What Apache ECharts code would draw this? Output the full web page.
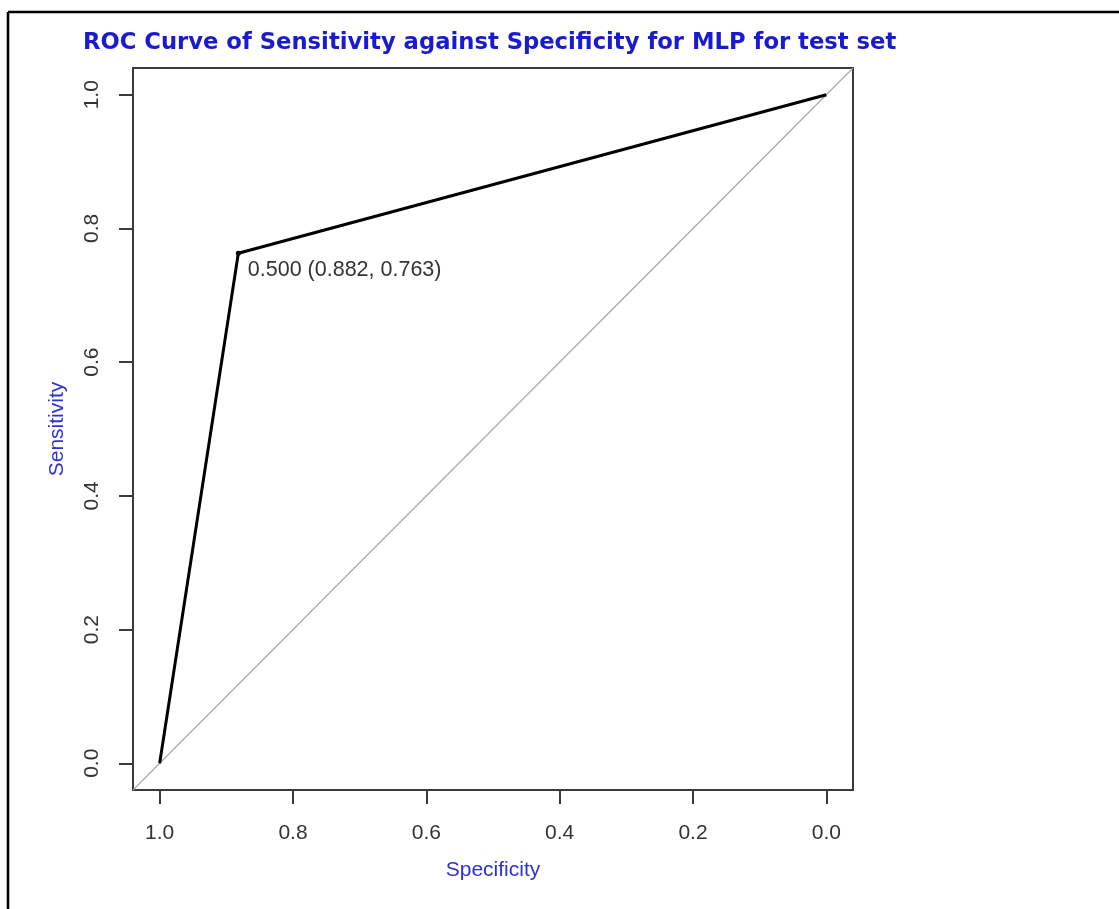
<!DOCTYPE html>
<html>
<head>
<meta charset="utf-8">
<title>ROC Curve - MLP test set</title>
<script src="https://cdn.jsdelivr.net/npm/echarts@6/dist/echarts.min.js"></script>
<style>
  html, body { margin: 0; padding: 0; background: #ffffff; }
  #chart { width: 1119px; height: 909px; }
</style>
</head>
<body>
<div id="chart"></div>
<script>
// ROC curve points (specificity on x, reversed; sensitivity on y)
const specificity = [1.0, 0.882, 0.0];
const sensitivity = [0.0, 0.763, 1.0];
// threshold printed next to the best point
const thresholds = [null, 0.5, null];
const markedPoint = 1;

// axis ticks and limits (4% padding each side, like R's default)
const tickValues = [0.0, 0.2, 0.4, 0.6, 0.8, 1.0];
const tickLabels = ['0.0', '0.2', '0.4', '0.6', '0.8', '1.0'];
const axisMin = -0.04;
const axisMax = 1.04;

const titleText = 'ROC Curve of Sensitivity against Specificity for MLP for test set';
const xName = 'Specificity';
const yName = 'Sensitivity';

const FONT = '"Liberation Sans", Arial, sans-serif';
const TITLE_FONT = '"DejaVu Sans", Verdana, sans-serif';
const labelColor = '#333333';
const nameColor = '#3030d8';

const curveData = specificity.map((s, i) => {
  const item = { value: [s, sensitivity[i]] };
  if (i === markedPoint) {
    item.symbol = 'circle';
    item.symbolSize = 5;
    item.label = {
      show: true,
      position: 'right',
      distance: 7,
      offset: [0, 17],
      formatter: thresholds[i].toFixed(3) + ' (' + s.toFixed(3) + ', ' + sensitivity[i].toFixed(3) + ')',
      color: labelColor,
      fontFamily: FONT,
      fontSize: 21.5
    };
  } else {
    item.symbol = 'none';
  }
  return item;
});

// chance line: sensitivity = 1 - specificity, across the whole plot box
const diagonal = [[axisMax, 1 - axisMax], [axisMin, 1 - axisMin]];

const tickLabelFmt = v => {
  const idx = tickValues.findIndex(t => Math.abs(t - v) < 1e-9);
  return idx >= 0 ? tickLabels[idx] : '';
};

const chart = echarts.init(document.getElementById('chart'), null, { renderer: 'canvas' });

chart.setOption({
  backgroundColor: '#ffffff',
  animation: false,
  title: {
    text: titleText,
    left: 83,
    top: 30,
    padding: 0,
    textStyle: {
      color: '#1a1ad0',
      fontFamily: TITLE_FONT,
      fontWeight: 'bold',
      fontSize: 22.7,
      lineHeight: 26
    }
  },
  grid: {
    left: 133, top: 68, right: 266, bottom: 119,
    show: true,
    borderColor: '#3a3a3a',
    borderWidth: 2,
    backgroundColor: 'transparent'
  },
  xAxis: {
    type: 'value',
    inverse: true,
    min: axisMin,
    max: axisMax,
    splitLine: { show: false },
    axisLine: { show: false, onZero: false },
    axisTick: {
      show: true, length: 14, inside: false,
      customValues: tickValues,
      lineStyle: { color: '#3a3a3a', width: 2 }
    },
    axisLabel: {
      show: true,
      customValues: tickValues,
      formatter: tickLabelFmt,
      margin: 33,
      color: labelColor,
      fontFamily: FONT,
      fontSize: 21
    },
    name: xName,
    nameLocation: 'middle',
    nameGap: 70,
    nameTextStyle: { color: nameColor, fontFamily: FONT, fontSize: 21 }
  },
  yAxis: {
    type: 'value',
    min: axisMin,
    max: axisMax,
    splitLine: { show: false },
    axisLine: { show: false, onZero: false },
    axisTick: {
      show: true, length: 14, inside: false,
      customValues: tickValues,
      lineStyle: { color: '#3a3a3a', width: 2 }
    },
    axisLabel: {
      show: true,
      customValues: tickValues,
      formatter: tickLabelFmt,
      rotate: 90,
      margin: 30,
      color: labelColor,
      fontFamily: FONT,
      fontSize: 21
    },
    name: yName,
    nameLocation: 'middle',
    nameGap: 65,
    nameTextStyle: { color: nameColor, fontFamily: FONT, fontSize: 21 }
  },
  series: [
    {
      name: 'chance',
      type: 'line',
      data: diagonal,
      symbol: 'none',
      silent: true,
      lineStyle: { color: '#a8a8a8', width: 1.2 },
      z: 1
    },
    {
      name: 'ROC',
      type: 'line',
      data: curveData,
      showAllSymbol: true,
      itemStyle: { color: '#000000' },
      lineStyle: { color: '#000000', width: 3 },
      z: 3
    }
  ],
  graphic: [
    { type: 'line', shape: { x1: 8, y1: 12, x2: 8, y2: 909 }, style: { stroke: '#000', lineWidth: 2.5 } },
    { type: 'line', shape: { x1: 8, y1: 12, x2: 1119, y2: 12 }, style: { stroke: '#000', lineWidth: 2.5 } }
  ]
});
</script>
</body>
</html>
